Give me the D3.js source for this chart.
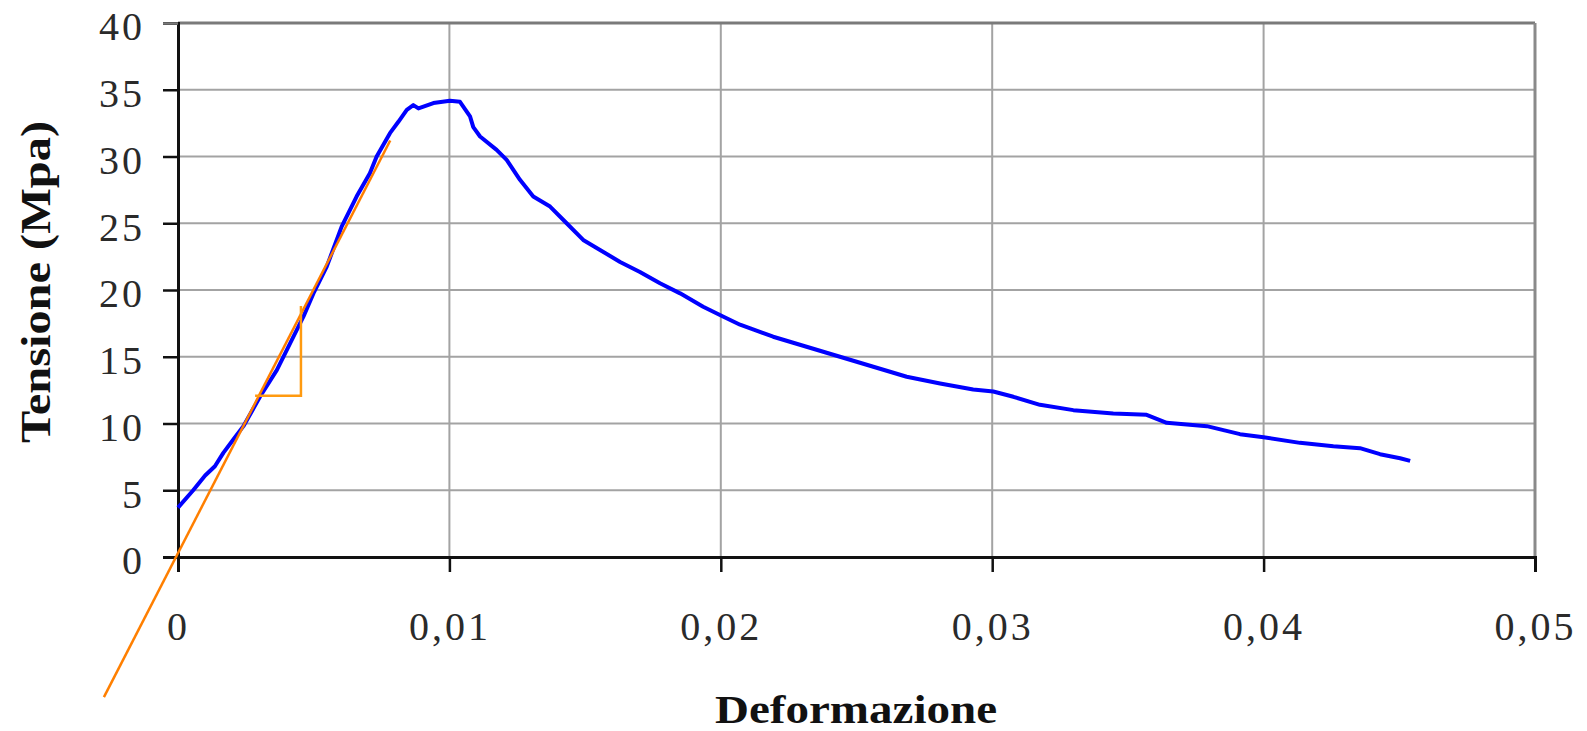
<!DOCTYPE html>
<html>
<head>
<meta charset="utf-8">
<script src="https://cdn.jsdelivr.net/npm/d3@7"></script>
<style>
  html, body { margin: 0; padding: 0; background: #fff; }
  svg { display: block; }
</style>
</head>
<body>
<div id="chart"></div>
<script>
const WIDTH = 1587;
const HEIGHT = 731;
const MARGIN = { top: 23, right: 52, bottom: 174, left: 178 };
const FONT = "'Liberation Serif', 'Times New Roman', serif";

// Prova di compressione: deformazione / tensione
const strain = [0, 0.00056, 0.001, 0.00136, 0.00167, 0.00204, 0.00241, 0.00302, 0.00364, 0.00413, 0.00462,
  0.00499, 0.00548, 0.00603, 0.00658, 0.00707, 0.00732, 0.00781, 0.00812, 0.00843, 0.00867, 0.00886,
  0.00941, 0.01002, 0.01039, 0.01076, 0.01088, 0.01113, 0.01174, 0.01211, 0.0126, 0.01309, 0.01371,
  0.01432, 0.01493, 0.01555, 0.01629, 0.01702, 0.01776, 0.0185, 0.01935, 0.0201, 0.02071, 0.02193,
  0.02316, 0.02439, 0.02562, 0.02685, 0.02808, 0.0293, 0.03004, 0.03078, 0.03176, 0.03299, 0.03446,
  0.03569, 0.03643, 0.03791, 0.03913, 0.04, 0.04134, 0.04257, 0.04355, 0.04429, 0.04503, 0.0454];
const stress = [3.7, 5.0, 6.1, 6.8, 7.8, 8.8, 9.8, 12.0, 14.0, 16.0, 18.0,
  19.75, 21.75, 24.75, 27.0, 28.75, 30.0, 31.75, 32.6, 33.5, 33.85, 33.6,
  34.0, 34.18, 34.1, 33.0, 32.2, 31.5, 30.5, 29.75, 28.25, 27.0, 26.25,
  25.0, 23.75, 23.0, 22.1, 21.35, 20.5, 19.75, 18.75, 18.0, 17.4, 16.5,
  15.75, 15.0, 14.25, 13.5, 13.0, 12.55, 12.4, 12.0, 11.4, 11.0, 10.75,
  10.65, 10.05, 9.8, 9.2, 8.97, 8.55, 8.3, 8.15, 7.7, 7.4, 7.2];

// retta del modulo elastico + triangolo della pendenza
const modulusStrain = [-0.00273, 0.00782];
const modulusStress = [-10.5, 31.2];
const slopeStrain = [0.00284, 0.00453, 0.00453];
const slopeStress = [12.08, 12.08, 18.8];

const xTicks = [0, 0.01, 0.02, 0.03, 0.04, 0.05];
const xTickLabels = ["0", "0,01", "0,02", "0,03", "0,04", "0,05"];
const yTicks = [0, 5, 10, 15, 20, 25, 30, 35, 40];

const width = WIDTH - MARGIN.left - MARGIN.right;
const height = HEIGHT - MARGIN.top - MARGIN.bottom;

const svg = d3.select("#chart").append("svg")
  .attr("width", WIDTH)
  .attr("height", HEIGHT);

const g = svg.append("g")
  .attr("transform", "translate(" + MARGIN.left + "," + MARGIN.top + ")");

const x = d3.scaleLinear().domain([0, 0.05]).range([0, width]);
const y = d3.scaleLinear().domain([0, 40]).range([height, 0]);

// gridlines
g.append("g")
  .attr("class", "grid-y")
  .selectAll("line")
  .data(yTicks.slice(1, -1))
  .join("line")
  .attr("x1", 0).attr("x2", width)
  .attr("y1", d => y(d)).attr("y2", d => y(d))
  .attr("stroke", "#a3a3a3")
  .attr("stroke-width", 2);

g.append("g")
  .attr("class", "grid-x")
  .selectAll("line")
  .data(xTicks.slice(1, -1))
  .join("line")
  .attr("x1", d => x(d)).attr("x2", d => x(d))
  .attr("y1", 0).attr("y2", height)
  .attr("stroke", "#a3a3a3")
  .attr("stroke-width", 2);

// top and right frame
g.append("line")
  .attr("x1", 0).attr("x2", width).attr("y1", y(40)).attr("y2", y(40))
  .attr("stroke", "#7a7a7a").attr("stroke-width", 3);
g.append("line")
  .attr("x1", x(0.05)).attr("x2", x(0.05)).attr("y1", 0).attr("y2", height)
  .attr("stroke", "#8a8a8a").attr("stroke-width", 3);

// axes
const yAxis = g.append("g")
  .call(d3.axisLeft(y).tickValues(yTicks).tickSize(15).tickPadding(18).tickFormat(d3.format("d")));

const xAxis = g.append("g")
  .attr("transform", "translate(0," + height + ")")
  .call(d3.axisBottom(x).tickValues(xTicks).tickSize(15).tickPadding(40)
    .tickFormat((d, i) => xTickLabels[i]));

[yAxis, xAxis].forEach(ax => {
  ax.select(".domain").attr("stroke", "#111").attr("stroke-width", 3);
  ax.selectAll(".tick line").attr("stroke", "#111").attr("stroke-width", 2.5);
  ax.selectAll(".tick text")
    .attr("fill", "#2a2a2a")
    .style("font-family", FONT)
    .style("font-size", "40px")
    .style("letter-spacing", "3px");
});
yAxis.selectAll(".tick text").attr("dy", "0.42em");
yAxis.select(".tick:last-of-type line").attr("stroke", "#7a7a7a");

// curve
const points = strain.map((s, i) => [s, stress[i]]);
const lineGen = d3.line().x(d => x(d[0])).y(d => y(d[1]));

g.append("path")
  .datum(points)
  .attr("fill", "none")
  .attr("stroke", "#0000ff")
  .attr("stroke-width", 4)
  .attr("stroke-linejoin", "round")
  .attr("d", lineGen);

// modulus line
g.append("path")
  .datum(modulusStrain.map((s, i) => [s, modulusStress[i]]))
  .attr("fill", "none")
  .attr("stroke", "#ff7f00")
  .attr("stroke-width", 2.5)
  .attr("d", lineGen);

g.append("path")
  .datum(slopeStrain.map((s, i) => [s, slopeStress[i]]))
  .attr("fill", "none")
  .attr("stroke", "#ff9a10")
  .attr("stroke-width", 2.5)
  .attr("d", lineGen);

// axis titles
svg.append("text")
  .attr("transform", "translate(50,282) rotate(-90)")
  .attr("text-anchor", "middle")
  .attr("fill", "#111")
  .style("font-family", FONT)
  .style("font-weight", "bold")
  .style("font-size", "42px")
  .attr("textLength", 322)
  .attr("lengthAdjust", "spacingAndGlyphs")
  .text("Tensione (Mpa)");

svg.append("text")
  .attr("x", 856)
  .attr("y", 723)
  .attr("text-anchor", "middle")
  .attr("fill", "#111")
  .style("font-family", FONT)
  .style("font-weight", "bold")
  .style("font-size", "40px")
  .attr("textLength", 282)
  .attr("lengthAdjust", "spacingAndGlyphs")
  .text("Deformazione");
</script>
</body>
</html>
